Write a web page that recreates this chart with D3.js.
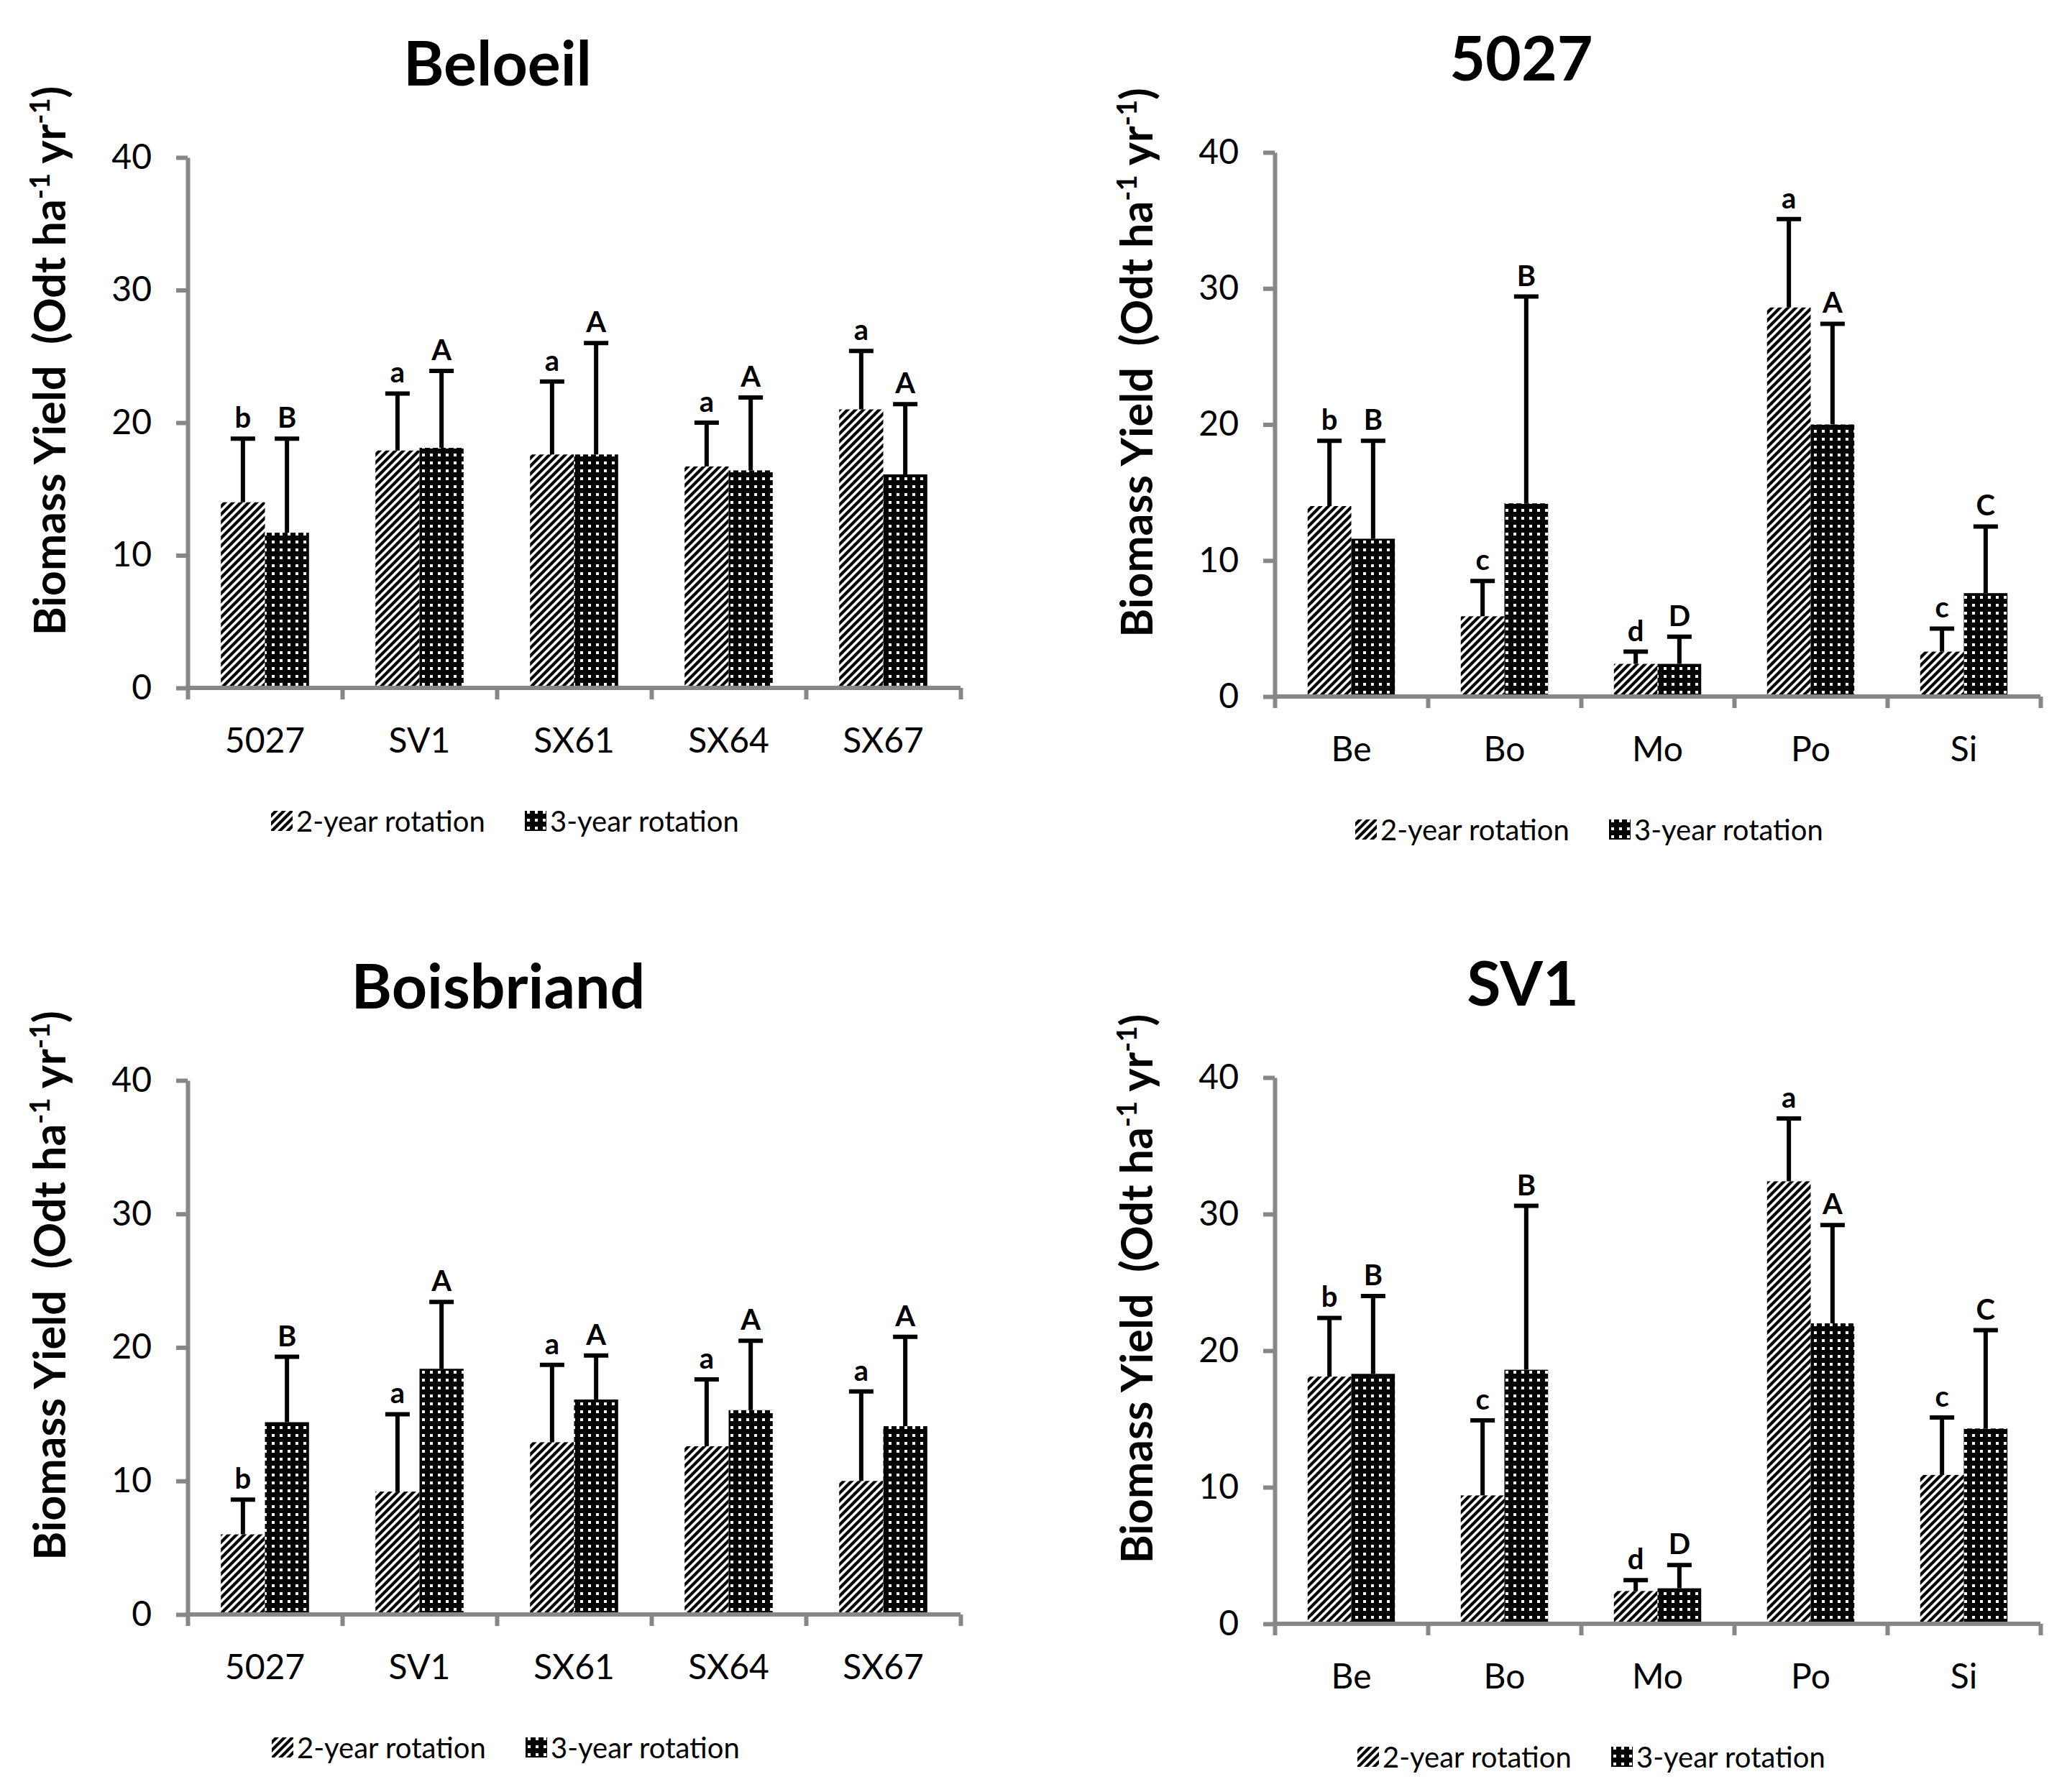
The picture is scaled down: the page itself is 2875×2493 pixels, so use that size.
<!DOCTYPE html>
<html>
<head>
<meta charset="utf-8">
<script src="https://cdn.jsdelivr.net/npm/d3@7"></script>
<style>
  body { margin: 0; background: #fff; }
  text { font-family: Lato, "Open Sans", sans-serif; fill: #000; }
</style>
</head>
<body>
<script>
// categories and ticks
var panelTitles = ["Beloeil", "5027", "Boisbriand", "SV1"];
var cloneCats = ["5027", "SV1", "SX61", "SX64", "SX67"];
var siteCats = ["Be", "Bo", "Mo", "Po", "Si"];
var yTicks = [0, 10, 20, 30, 40];
var seriesNames = ["2-year rotation", "3-year rotation"];

// Beloeil (by clone)
var beloeil2yr = [14.0, 17.9, 17.6, 16.7, 21.0];
var beloeil2yrErr = [4.8, 4.3, 5.5, 3.3, 4.4];
var beloeil3yr = [11.7, 18.1, 17.6, 16.4, 16.1];
var beloeil3yrErr = [7.1, 5.8, 8.4, 5.5, 5.3];
var beloeilLetters2 = ["b", "a", "a", "a", "a"];
var beloeilLetters3 = ["B", "A", "A", "A", "A"];

// clone 5027 (by site)
var c5027_2yr = [14.0, 5.9, 2.4, 28.6, 3.3];
var c5027_2yrErr = [4.8, 2.6, 0.9, 6.5, 1.7];
var c5027_3yr = [11.6, 14.2, 2.4, 20.0, 7.6];
var c5027_3yrErr = [7.2, 15.2, 2.0, 7.4, 4.9];
var c5027Letters2 = ["b", "c", "d", "a", "c"];
var c5027Letters3 = ["B", "B", "D", "A", "C"];

// Boisbriand (by clone)
var bois2yr = [6.0, 9.2, 12.9, 12.6, 10.0];
var bois2yrErr = [2.6, 5.8, 5.8, 5.0, 6.7];
var bois3yr = [14.4, 18.4, 16.1, 15.3, 14.1];
var bois3yrErr = [4.9, 5.0, 3.3, 5.2, 6.7];
var boisLetters2 = ["b", "a", "a", "a", "a"];
var boisLetters3 = ["B", "A", "A", "A", "A"];

// clone SV1 (by site)
var sv1_2yr = [18.1, 9.4, 2.4, 32.4, 10.9];
var sv1_2yrErr = [4.3, 5.5, 0.8, 4.6, 4.2];
var sv1_3yr = [18.3, 18.6, 2.6, 22.0, 14.3];
var sv1_3yrErr = [5.7, 12.0, 1.7, 7.2, 7.2];
var sv1Letters2 = ["b", "c", "d", "a", "c"];
var sv1Letters3 = ["B", "B", "D", "A", "C"];

var W = 2875, H = 2493;
var axisGrey = "#878787";

var svg = d3.select("body").append("svg")
  .attr("width", W).attr("height", H)
  .style("display", "block");

svg.append("rect").attr("width", W).attr("height", H).attr("fill", "#fff");

// fill patterns
var defs = svg.append("defs");
var hatch = defs.append("pattern").attr("id", "hatch")
  .attr("patternUnits", "userSpaceOnUse").attr("width", 11).attr("height", 11);
hatch.append("rect").attr("width", 11).attr("height", 11).attr("fill", "#fff");
hatch.append("path")
  .attr("d", "M0,11 L11,0 M-2.75,2.75 L2.75,-2.75 M8.25,13.75 L13.75,8.25")
  .attr("stroke", "#000").attr("stroke-width", 4.2);

var dots = defs.append("pattern").attr("id", "dots")
  .attr("patternUnits", "userSpaceOnUse").attr("width", 11).attr("height", 11);
dots.append("rect").attr("width", 11).attr("height", 11).attr("fill", "#000");
dots.append("rect").attr("x", 4).attr("y", 4).attr("width", 3.5).attr("height", 3.5)
  .attr("fill", "#fff").attr("shape-rendering", "crispEdges");

var fills = ["url(#hatch)", "url(#dots)"];

var panels = [
  { title: panelTitles[0], cats: cloneCats, v: [beloeil2yr, beloeil3yr], e: [beloeil2yrErr, beloeil3yrErr],
    l: [beloeilLetters2, beloeilLetters3], ax: 261, y0: 957, y40: 219, band: 215, tx: 692, lx: 377 },
  { title: panelTitles[1], cats: siteCats, v: [c5027_2yr, c5027_3yr], e: [c5027_2yrErr, c5027_3yrErr],
    l: [c5027Letters2, c5027Letters3], ax: 1773, y0: 969, y40: 212, band: 213, tx: 2116, lx: 1885 },
  { title: panelTitles[2], cats: cloneCats, v: [bois2yr, bois3yr], e: [bois2yrErr, bois3yrErr],
    l: [boisLetters2, boisLetters3], ax: 261, y0: 2246, y40: 1503, band: 215, tx: 693, lx: 378 },
  { title: panelTitles[3], cats: siteCats, v: [sv1_2yr, sv1_3yr], e: [sv1_2yrErr, sv1_3yrErr],
    l: [sv1Letters2, sv1Letters3], ax: 1773, y0: 2259, y40: 1499, band: 213, tx: 2118, lx: 1888 }
];

panels.forEach(function(p) {
  var g = svg.append("g");
  var xEnd = p.ax + p.band * p.cats.length;

  var y = d3.scaleLinear().domain([0, 40]).range([p.y0, p.y40]);
  var x0 = d3.scaleBand().domain(p.cats).range([p.ax, xEnd])
    .paddingInner(0.43).paddingOuter(0.215);
  var x1 = d3.scaleBand().domain([0, 1]).range([0, x0.bandwidth()]);
  var xEdge = d3.scaleLinear().domain([0, p.cats.length]).range([p.ax, xEnd]);

  // title
  g.append("text").attr("x", p.tx).attr("y", p.y40 - 100)
    .attr("text-anchor", "middle").attr("font-size", 86).attr("font-weight", "bold")
    .text(p.title);

  // y axis title
  var yl = g.append("text")
    .attr("transform", "translate(" + (p.ax - 170) + "," + ((p.y0 + p.y40) / 2 - 86) + ") rotate(-90)")
    .attr("text-anchor", "middle").attr("font-size", 61).attr("font-weight", "bold");
  yl.append("tspan").text("Biomass Yield\u00a0\u00a0(Odt ha");
  yl.append("tspan").attr("dy", -22).attr("font-size", 38).text("-1");
  yl.append("tspan").attr("dy", 22).text(" yr");
  yl.append("tspan").attr("dy", -22).attr("font-size", 38).text("-1");
  yl.append("tspan").attr("dy", 22).text(")");

  // bars
  [0, 1].forEach(function(s) {
    g.append("g").selectAll("rect").data(p.v[s]).join("rect")
      .attr("x", function(d, i) { return x0(p.cats[i]) + x1(s); })
      .attr("y", function(d) { return y(d); })
      .attr("width", x1.bandwidth())
      .attr("height", function(d) { return y(0) - y(d); })
      .attr("fill", fills[s]);
  });

  // error bars and letters
  [0, 1].forEach(function(s) {
    var eg = g.append("g");
    p.v[s].forEach(function(d, i) {
      var cx = x0(p.cats[i]) + x1(s) + x1.bandwidth() / 2;
      var top = y(d + p.e[s][i]);
      eg.append("line").attr("x1", cx).attr("x2", cx).attr("y1", y(d)).attr("y2", top)
        .attr("stroke", "#000").attr("stroke-width", 6);
      eg.append("line").attr("x1", cx - 17).attr("x2", cx + 17).attr("y1", top).attr("y2", top)
        .attr("stroke", "#000").attr("stroke-width", 6);
      eg.append("text").attr("x", cx).attr("y", top - 15)
        .attr("text-anchor", "middle").attr("font-size", 40).attr("font-weight", "bold")
        .text(p.l[s][i]);
    });
  });

  // y axis
  var ya = g.append("g").attr("transform", "translate(" + p.ax + ",0)")
    .call(d3.axisLeft(y).tickValues(yTicks).tickSize(16).tickSizeOuter(0).tickPadding(34));
  ya.select(".domain").attr("stroke", axisGrey).attr("stroke-width", 6);
  ya.selectAll(".tick line").attr("stroke", axisGrey).attr("stroke-width", 6);
  ya.selectAll(".tick text").attr("font-size", 48).attr("font-family", "Lato, sans-serif")
    .attr("fill", "#000");

  // x axis (ticks at category edges)
  var xa = g.append("g").attr("transform", "translate(0," + p.y0 + ")")
    .call(d3.axisBottom(xEdge).tickValues(d3.range(p.cats.length + 1)).tickFormat("")
      .tickSize(16).tickSizeOuter(0));
  xa.select(".domain").attr("stroke", axisGrey).attr("stroke-width", 6)
    .attr("d", "M" + (p.ax - 3) + ",0H" + xEnd);
  xa.selectAll(".tick line").attr("stroke", axisGrey).attr("stroke-width", 6);

  // category labels
  g.append("g").selectAll("text").data(p.cats).join("text")
    .attr("x", function(d) { return x0(d) + x0.bandwidth() / 2; })
    .attr("y", p.y0 + 90)
    .attr("text-anchor", "middle").attr("font-size", 48)
    .text(function(d) { return d; });

  // legend
  var lg = g.append("g").attr("transform", "translate(" + p.lx + "," + (p.y0 + 200) + ")");
  var offs = [0, 353];
  [0, 1].forEach(function(s) {
    lg.append("rect").attr("x", offs[s]).attr("y", -29).attr("width", 30).attr("height", 28)
      .attr("fill", fills[s]);
    lg.append("text").attr("x", offs[s] + 35).attr("y", 0).attr("font-size", 40)
      .text(seriesNames[s]);
  });
});
</script>
</body>
</html>
